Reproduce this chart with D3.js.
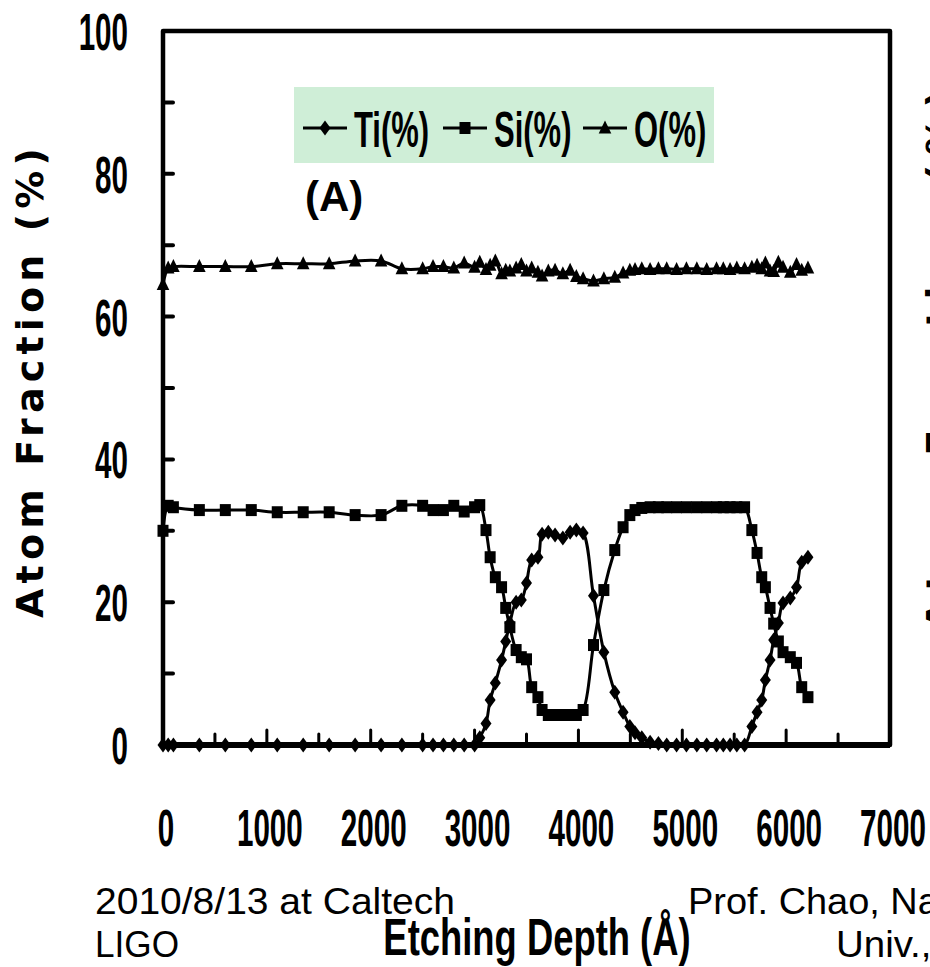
<!DOCTYPE html>
<meta charset="utf-8">
<style>
body { margin: 0; background: #fff; }
svg { display: block; }
.narrow { font-family: "Liberation Sans Narrow", "Liberation Sans", sans-serif; font-weight: bold; }
.plain { font-family: "Liberation Sans", Arial, sans-serif; }
.heavy { font-family: "DejaVu Sans", sans-serif; font-weight: bold; }
</style>
<svg width="930" height="967"></svg>
<script src="https://d3js.org/d3.v7.min.js"></script>
<script>

// etching depth (Angstrom) of each measurement
var depth = [0, 50, 100, 350, 600, 850, 1100, 1350, 1600, 1850, 2100,
  2300, 2500, 2600, 2700, 2800, 2900, 3000,
  3050, 3110, 3150, 3200, 3260, 3300, 3340, 3400, 3450, 3500, 3550, 3610,
  3650, 3710, 3775, 3850, 3920, 3980, 4045,
  4145, 4245, 4350, 4430, 4495, 4545, 4610,
  4690, 4770, 4850, 4945, 5040, 5140, 5235, 5330, 5395, 5460, 5525, 5600,
  5670, 5720, 5765, 5800, 5845, 5880, 5925, 5970, 6040, 6100, 6150, 6210];

var tiPct = [0, 0, 0, 0, 0, 0, 0, 0, 0, 0, 0,
  0, 0, 0, 0, 0, 0, 0,
  1.0, 3.0, 6.3, 8.7, 11.9, 14.5, 17.1, 20.0, 20.3, 22.7, 25.9, 26.3,
  29.5, 29.8, 29.4, 29.0, 29.8, 30.1, 29.7,
  20.9, 13.0, 7.4, 4.6, 2.6, 1.7, 1.0,
  0.4, 0.2, 0, 0, 0, 0, 0, 0, 0, 0, 0, 0,
  2.6, 4.6, 6.3, 9.1, 11.9, 14.7, 17.1, 19.9, 20.6, 22.1, 25.6, 26.3];

var siPct = [30.0, 33.5, 33.3, 32.9, 32.9, 32.9, 32.6, 32.6, 32.6, 32.2, 32.2,
  33.5, 33.5, 32.9, 32.9, 33.5, 32.7, 33.3,
  33.6, 30.1, 26.3, 23.5, 22.1, 19.2, 16.5, 13.3, 12.3, 12.0, 8.1, 6.7,
  4.9, 4.2, 4.2, 4.2, 4.2, 4.2, 4.9,
  14.0, 21.7, 27.3, 30.5, 32.2, 32.9, 33.2,
  33.3, 33.3, 33.3, 33.3, 33.3, 33.3, 33.3, 33.3, 33.3, 33.3, 33.3, 33.3,
  30.1, 26.9, 23.5, 22.1, 19.2, 17.0, 14.5, 13.0, 12.3, 11.5, 8.1, 6.7];

var oPct = [64.5, 66.8, 67.0, 67.0, 67.0, 67.0, 67.4, 67.4, 67.4, 67.8, 67.8,
  66.7, 66.7, 67.0, 67.0, 66.8, 67.5, 66.9,
  67.6, 66.6, 67.2, 67.8, 66.0, 66.5, 66.4, 66.8, 67.3, 66.4, 66.8, 66.2,
  65.7, 66.4, 66.5, 66.0, 66.5, 65.6, 65.3,
  65.0, 65.3, 65.5, 66.1, 66.5, 66.6, 66.7,
  66.6, 66.7, 66.7, 66.6, 66.7, 66.7, 66.6, 66.7, 66.7, 66.6, 66.8, 66.7,
  66.9, 67.2, 66.7, 67.5, 66.4, 66.3, 67.6, 66.9, 66.2, 67.3, 66.5, 66.8];

var seriesNames = ["Ti(%)", "Si(%)", "O(%)"];
var xTicks = [0, 1000, 2000, 3000, 4000, 5000, 6000, 7000];
var yTicks = [0, 20, 40, 60, 80, 100];

var svg = d3.select("svg");

var plotL = 163, plotR = 890, plotT = 31, plotB = 745;

var x = d3.scaleLinear().domain([0, 7000]).range([plotL, plotR]);
var y = d3.scaleLinear().domain([0, 100]).range([plotB, plotT]);

// marker shapes
var shapes = {
  "Ti(%)": "M0,-7.5L5.5,0L0,7.5L-5.5,0Z",
  "Si(%)": "M-5.5,-6H5.5V6H-5.5Z",
  "O(%)": "M0,-7.5L6.3,5.5L-6.3,5.5Z"
};

var series = [
  { name: seriesNames[0], values: tiPct },
  { name: seriesNames[1], values: siPct },
  { name: seriesNames[2], values: oPct }
];

// x ticks every 500 pointing up
svg.append("g")
  .selectAll("line")
  .data(d3.range(500, 7000, 500))
  .enter().append("line")
  .attr("x1", d => x(d)).attr("x2", d => x(d))
  .attr("y1", plotB)
  .attr("y2", d => plotB - (d % 1000 === 0 ? 15 : 11))
  .attr("stroke", "black")
  .attr("stroke-width", 3)
  .attr("stroke-linecap", "round");

// y ticks every 10 pointing right
svg.append("g")
  .selectAll("line")
  .data(d3.range(10, 100, 10))
  .enter().append("line")
  .attr("x1", plotL).attr("x2", plotL + 10)
  .attr("y1", d => y(d)).attr("y2", d => y(d))
  .attr("stroke", "black")
  .attr("stroke-width", 4)
  .attr("stroke-linecap", "round");

// the lines
var line = d3.line()
  .x((d, i) => x(depth[i]))
  .y(d => y(d))
  .curve(d3.curveCatmullRom.alpha(0.5));

var plot = svg.append("g");

series.forEach(function(s) {
  plot.append("path")
    .datum(s.values)
    .attr("d", line)
    .attr("fill", "none")
    .attr("stroke", "black")
    .attr("stroke-width", 3);
});

series.forEach(function(s) {
  plot.append("g")
    .selectAll("path")
    .data(s.values)
    .enter().append("path")
    .attr("d", shapes[s.name])
    .attr("transform", (d, i) => "translate(" + x(depth[i]) + "," + y(d) + ")")
    .attr("fill", "black");
});

// frame
svg.append("rect")
  .attr("x", plotL).attr("y", plotT)
  .attr("width", plotR - plotL).attr("height", plotB - plotT)
  .attr("fill", "none")
  .attr("stroke", "black")
  .attr("stroke-width", 4.5)
  .attr("stroke-linejoin", "round");

svg.append("line")
  .attr("x1", plotL).attr("x2", plotR)
  .attr("y1", plotB).attr("y2", plotB)
  .attr("stroke", "black")
  .attr("stroke-width", 6);

// y tick labels
svg.append("g")
  .selectAll("g")
  .data(yTicks)
  .enter().append("g")
  .attr("transform", d => "translate(128," + (y(d) + 19) + ") scale(0.58,1)")
  .append("text")
  .attr("class", "narrow")
  .attr("font-size", 51)
  .attr("text-anchor", "end")
  .text(d => d);

// x tick labels
svg.append("g")
  .selectAll("g")
  .data(xTicks)
  .enter().append("g")
  .attr("transform", d => "translate(" + (x(d) + 3) + ",846) scale(0.58,1)")
  .append("text")
  .attr("class", "narrow")
  .attr("font-size", 51)
  .attr("text-anchor", "middle")
  .text(d => d);

// axis titles
svg.append("text")
  .attr("class", "heavy")
  .attr("font-size", 38)
  .attr("text-anchor", "middle")
  .attr("textLength", 470)
  .attr("lengthAdjust", "spacing")
  .attr("transform", "translate(43,383) rotate(-90)")
  .text("Atom Fraction (%)");

// neighbouring chart's title, cut by the right edge
svg.append("text")
  .attr("class", "heavy")
  .attr("font-size", 38)
  .attr("text-anchor", "middle")
  .attr("textLength", 540)
  .attr("lengthAdjust", "spacing")
  .attr("transform", "translate(953,360) rotate(-90)")
  .text("Atom Fraction (%)");

svg.append("g")
  .attr("transform", "translate(537,955) scale(0.7,1)")
  .append("text")
  .attr("class", "narrow")
  .attr("font-size", 52)
  .attr("text-anchor", "middle")
  .text("Etching Depth (Å)");

// legend
var legend = svg.append("g");
legend.append("rect")
  .attr("x", 294).attr("y", 87)
  .attr("width", 420).attr("height", 76)
  .attr("fill", "#cfeed7");

var legendX = [303, 443, 583];
series.forEach(function(s, i) {
  var g = legend.append("g").attr("transform", "translate(" + legendX[i] + ",128)");
  g.append("line")
    .attr("x1", 0).attr("x2", 44)
    .attr("stroke", "black").attr("stroke-width", 3);
  g.append("path")
    .attr("d", shapes[s.name])
    .attr("transform", "translate(22,0)")
    .attr("fill", "black");
  g.append("g")
    .attr("transform", "translate(51,19) scale(0.62,1)")
    .append("text")
    .attr("class", "narrow")
    .attr("font-size", 50)
    .text(s.name);
});

svg.append("text")
  .attr("class", "plain")
  .attr("font-weight", "bold")
  .attr("font-size", 42)
  .attr("x", 305).attr("y", 211)
  .text("(A)");

// slide footer text
var footer = [
  { t: "2010/8/13 at Caltech", x: 95, y: 914, w: 360 },
  { t: "LIGO", x: 95, y: 957, w: 84 },
  { t: "Prof. Chao, National Tsing Hua", x: 688, y: 914, w: 520 },
  { t: "Univ., Taiwan", x: 836, y: 957, w: 225 }
];
svg.append("g")
  .selectAll("text")
  .data(footer)
  .enter().append("text")
  .attr("class", "plain")
  .attr("font-size", 37)
  .attr("x", d => d.x).attr("y", d => d.y)
  .attr("textLength", d => d.w)
  .attr("lengthAdjust", "spacingAndGlyphs")
  .text(d => d.t);

</script>
